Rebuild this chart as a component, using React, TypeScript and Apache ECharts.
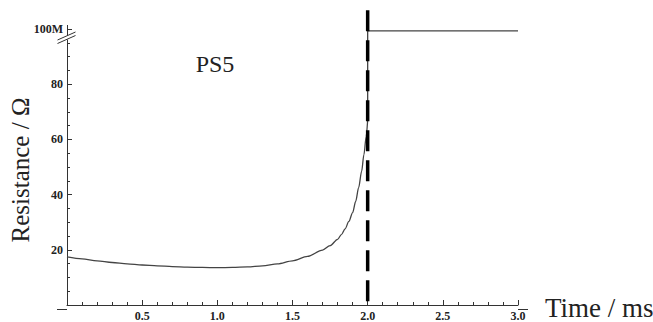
import React, { useEffect, useRef } from "react";
import * as echarts from "echarts";

// Resistance curve (time in ms, resistance in ohm)
const curveTime = [0, 0.1, 0.2, 0.3, 0.4, 0.5, 0.6, 0.7, 0.8, 0.9, 1.0, 1.1, 1.2, 1.3, 1.4, 1.5, 1.6, 1.7, 1.75, 1.8, 1.825, 1.85, 1.875, 1.9, 1.92, 1.94, 1.96, 1.975, 1.99, 2.0];
const curveResistance = [17.4, 16.7, 16.0, 15.4, 14.9, 14.5, 14.2, 13.9, 13.7, 13.6, 13.55, 13.6, 13.8, 14.2, 14.9, 16.0, 17.6, 19.9, 21.5, 23.8, 25.5, 27.6, 30.3, 33.5, 37.5, 42.5, 48.5, 54.5, 61.0, 67.0];

// Jump to the "100M" level after t = 2.0 ms
const stepTime = [2.0, 2.0, 3.0];
const stepResistance = [67.0, 99.3, 99.3];

// Vertical marker at t = 2.0 ms
const markerTime = 2.0;
const markerRange = [106.8, 0];

const SERIF = "Liberation Serif";
const AXIS_COLOR = "#333333";

export default function App() {
  const ref = useRef<HTMLDivElement>(null);

  useEffect(() => {
    if (!ref.current) return;
    const chart = echarts.init(ref.current, null, { renderer: "svg" });

    chart.setOption({
      animation: false,
      backgroundColor: "#ffffff",
      grid: { left: 67, right: 135, top: 29, bottom: 13, containLabel: false },
      xAxis: {
        type: "value",
        min: 0,
        max: 3,
        interval: 0.5,
        splitLine: { show: false },
        axisLine: { show: true, onZero: false, lineStyle: { color: AXIS_COLOR, width: 1 } },
        axisTick: { show: true, inside: true, length: 5, lineStyle: { color: AXIS_COLOR } },
        minorTick: { show: true, splitNumber: 5, length: 3, lineStyle: { color: AXIS_COLOR } },
        axisLabel: {
          show: true,
          formatter: (v: number) => (v === 0 ? "" : v.toFixed(1)),
          fontFamily: SERIF,
          fontWeight: "bold",
          fontSize: 12,
          color: "#222",
          margin: 5,
        },
      },
      yAxis: {
        type: "value",
        min: 0,
        max: 100,
        interval: 20,
        splitLine: { show: false },
        axisLine: { show: true, onZero: false, lineStyle: { color: AXIS_COLOR, width: 1 } },
        axisTick: { show: true, inside: true, length: 5, lineStyle: { color: AXIS_COLOR } },
        minorTick: { show: true, splitNumber: 4, length: 3, lineStyle: { color: AXIS_COLOR } },
        axisLabel: {
          show: true,
          formatter: (v: number) => (v === 0 ? "" : v >= 100 ? "100M" : String(v)),
          fontFamily: SERIF,
          fontWeight: "bold",
          fontSize: 12,
          color: "#222",
          margin: 4,
        },
      },
      series: [
        {
          type: "line",
          data: curveTime.map((t, i) => [t, curveResistance[i]]),
          showSymbol: false,
          smooth: 0.3,
          smoothMonotone: "x",
          lineStyle: { color: "#444", width: 1.3 },
          z: 2,
        },
        {
          type: "line",
          data: stepTime.map((t, i) => [t, stepResistance[i]]),
          showSymbol: false,
          lineStyle: { color: "#444", width: 1.3 },
          z: 2,
        },
        {
          type: "line",
          data: markerRange.map((v) => [markerTime, v]),
          showSymbol: false,
          clip: false,
          lineStyle: { color: "#000", width: 3.5, type: [21, 9] },
          z: 3,
        },
      ],
      graphic: [
        // axis line extensions beyond the plotted range
        { type: "line", z: 99, shape: { x1: 57, y1: 309.5, x2: 67, y2: 309.5 }, style: { stroke: AXIS_COLOR, lineWidth: 1 } },
        { type: "line", z: 99, shape: { x1: 518, y1: 309.5, x2: 528, y2: 309.5 }, style: { stroke: AXIS_COLOR, lineWidth: 1 } },
        { type: "line", z: 99, shape: { x1: 67.5, y1: 25, x2: 67.5, y2: 29 }, style: { stroke: AXIS_COLOR, lineWidth: 1 } },
        // axis break
        {
          type: "polygon",
          z: 100,
          shape: { points: [[63, 37.5], [71, 34], [71, 38], [63, 41.5]] },
          style: { fill: "#fff", stroke: null },
        },
        { type: "line", z: 101, shape: { x1: 57.5, y1: 40, x2: 75.5, y2: 32 }, style: { stroke: AXIS_COLOR, lineWidth: 1 } },
        { type: "line", z: 101, shape: { x1: 57.5, y1: 43.5, x2: 75.5, y2: 35.5 }, style: { stroke: AXIS_COLOR, lineWidth: 1 } },
        {
          type: "text",
          z: 102,
          x: 215,
          y: 64,
          style: {
            text: "PS5",
            fontFamily: SERIF,
            fontSize: 24,
            fill: "#222",
            textAlign: "center",
            textVerticalAlign: "middle",
          },
        },
        {
          type: "text",
          z: 102,
          x: 20,
          y: 170,
          rotation: Math.PI / 2,
          style: {
            text: "Resistance / Ω",
            fontFamily: SERIF,
            fontSize: 25,
            fill: "#222",
            textAlign: "center",
            textVerticalAlign: "middle",
          },
        },
        {
          type: "text",
          z: 102,
          x: 545,
          y: 308,
          style: {
            text: "Time / ms",
            fontFamily: SERIF,
            fontSize: 27,
            fill: "#222",
            textAlign: "left",
            textVerticalAlign: "middle",
          },
        },
      ],
    });

    return () => chart.dispose();
  }, []);

  return <div ref={ref} style={{ width: 653, height: 322, position: "absolute", left: 0, top: 0 }} />;
}
